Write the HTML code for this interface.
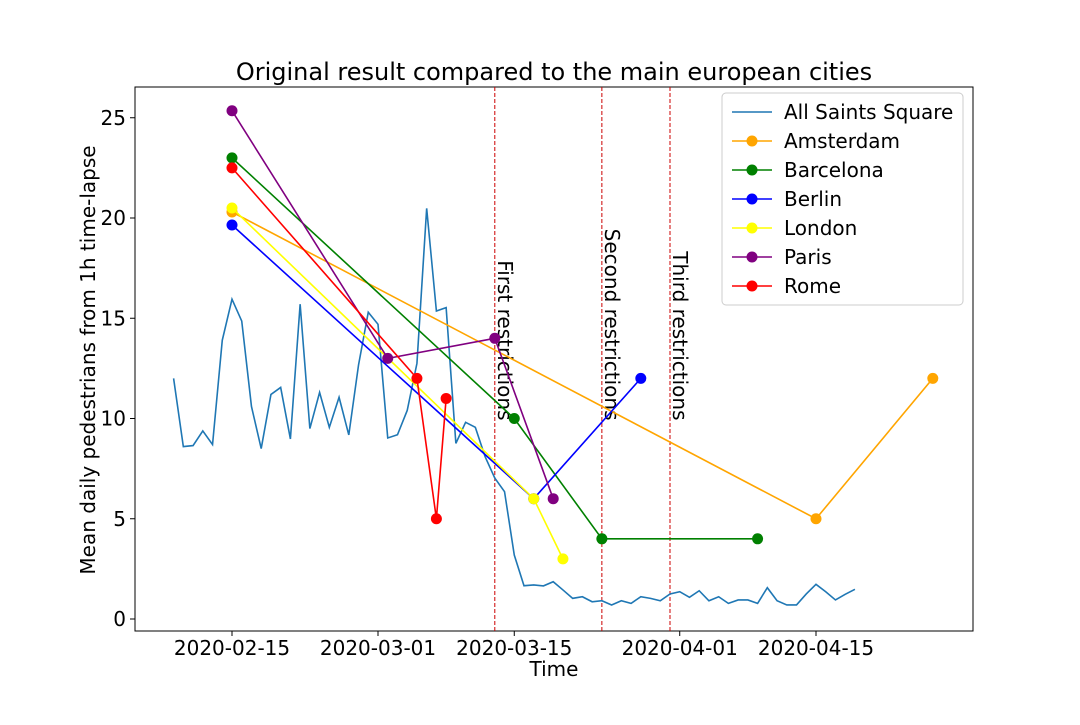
<!DOCTYPE html>
<html><head><meta charset="utf-8"><style>
body{margin:0;background:#fff}
svg{font-family:"DejaVu Sans","Liberation Sans",sans-serif}
</style></head><body>
<svg id="chart" width="1080" height="720" viewBox="0 0 1080 720" xmlns="http://www.w3.org/2000/svg">
<rect width="1080" height="720" fill="#fff"/>
<text x="554" y="80" font-size="24" text-anchor="middle">Original result compared to the main european cities</text>
<text x="554" y="676" font-size="20" text-anchor="middle">Time</text>
<text transform="translate(95,360) rotate(-90)" font-size="20" text-anchor="middle">Mean daily pedestrians from 1h time-lapse</text>
<g id="plot"></g>
</svg>
<script>
// days relative to 2020-02-15
const squareStartDay = -6;
const squareValues = [12.0,8.6,8.65,9.38,8.7,13.9,15.95,14.86,10.6,8.5,11.2,11.55,8.98,15.7,9.5,11.3,9.56,11.06,9.18,12.67,15.3,14.7,9.03,9.19,10.4,12.75,20.48,15.36,15.53,8.76,9.81,9.56,8.1,7.03,6.35,3.19,1.66,1.7,1.65,1.86,1.45,1.03,1.11,0.86,0.91,0.7,0.91,0.78,1.11,1.03,0.91,1.25,1.36,1.08,1.41,0.91,1.11,0.78,0.95,0.95,0.78,1.56,0.91,0.7,0.7,1.25,1.73,1.36,0.95,1.23,1.48];
const cityNames = ["Amsterdam","Barcelona","Berlin","London","Paris","Rome"];
const cityColors = ["orange","green","blue","yellow","purple","red"];
const amsterdamDays = [0,60,72], amsterdamVals = [20.3,5,12];
const barcelonaDays = [0,29,38,54], barcelonaVals = [23,10,4,4];
const berlinDays = [0,31,42], berlinVals = [19.65,6,12];
const londonDays = [0,31,34], londonVals = [20.5,6,3];
const parisDays = [0,16,27,33], parisVals = [25.35,13,14,6];
const romeDays = [0,19,21,22], romeVals = [22.5,12,5,11];
const restrictionDays = [27,38,45];
const restrictionLabels = ["First restrictions","Second restrictions","Third restrictions"];
const restrictionLabelValue = 10;
const xTickDays = [0,15,29,46,60];
const xTickLabels = ["2020-02-15","2020-03-01","2020-03-15","2020-04-01","2020-04-15"];
const yTicks = [0,5,10,15,20,25];

const NS="http://www.w3.org/2000/svg";
const L=135,R=973,T=87,B=631;
const x=d=>232+9.7333*d;
const y=v=>619-20.05*v;
const g=document.getElementById('plot');
function mk(tag,attrs,parent){const e=document.createElementNS(NS,tag);for(const k in attrs)e.setAttribute(k,attrs[k]);(parent||g).appendChild(e);return e;}

let fr=mk('rect',{x:L,y:T,width:R-L,height:B-T,fill:'none',stroke:'#000','stroke-width':1});


yTicks.forEach(v=>{
  const t=mk('line',{x1:L-5,x2:L,y1:y(v),y2:y(v),stroke:'#000'});
  
  
  const tx=mk('text',{x:L-9,y:y(v)+7,'font-size':20,'text-anchor':'end'});
  tx.textContent=v;
  
  
});
xTickDays.forEach((d,i)=>{
  const t=mk('line',{x1:x(d),x2:x(d),y1:B,y2:B+5,stroke:'#000'});
  
  
  const tx=mk('text',{x:x(d),y:B+24,'font-size':20,'text-anchor':'middle'});
  tx.textContent=xTickLabels[i];
  
  
});
restrictionDays.forEach((d,i)=>{
  const l=mk('line',{x1:x(d),x2:x(d),y1:T,y2:B,stroke:'#c00','stroke-width':1,'stroke-dasharray':'4,2'});
  
  
  const t=mk('text',{transform:`translate(${x(d)+3},${y(restrictionLabelValue)+2}) rotate(90)`,'font-size':20,'text-anchor':'end'});
  t.textContent=restrictionLabels[i];
  
  
});
const sq=mk('polyline',{points:squareValues.map((v,i)=>x(squareStartDay+i)+','+y(v)).join(' '),fill:'none',stroke:'#1f77b4','stroke-width':1.6});


const cityDays=[amsterdamDays,barcelonaDays,berlinDays,londonDays,parisDays,romeDays];
const cityVals=[amsterdamVals,barcelonaVals,berlinVals,londonVals,parisVals,romeVals];
cityNames.forEach((n,ci)=>{
  const pl=mk('polyline',{points:cityDays[ci].map((d,i)=>x(d)+','+y(cityVals[ci][i])).join(' '),fill:'none',stroke:cityColors[ci],'stroke-width':1.6});
  
  
  cityDays[ci].forEach((d,i)=>{
    const c=mk('circle',{cx:x(d),cy:y(cityVals[ci][i]),r:5.5,fill:cityColors[ci]});
    
    
  });
});
const lg=mk('g',{});


mk('rect',{x:722,y:93,width:241,height:212,rx:4,fill:'#fff','fill-opacity':0.85,stroke:'#ccc'},lg);
const legNames=["All Saints Square"].concat(cityNames);
const legColors=["#1f77b4"].concat(cityColors);
legNames.forEach((n,i)=>{
  const yy=112+29*i;
  const e=mk('g',{},lg);
  
  
  mk('line',{x1:732,x2:772,y1:yy,y2:yy,stroke:legColors[i],'stroke-width':1.6},e);
  if(i>0) mk('circle',{cx:752,cy:yy,r:5.5,fill:legColors[i]},e);
  const t=mk('text',{x:784,y:yy+7,'font-size':20},e);
  t.textContent=n;
});
</script>
</body></html>
